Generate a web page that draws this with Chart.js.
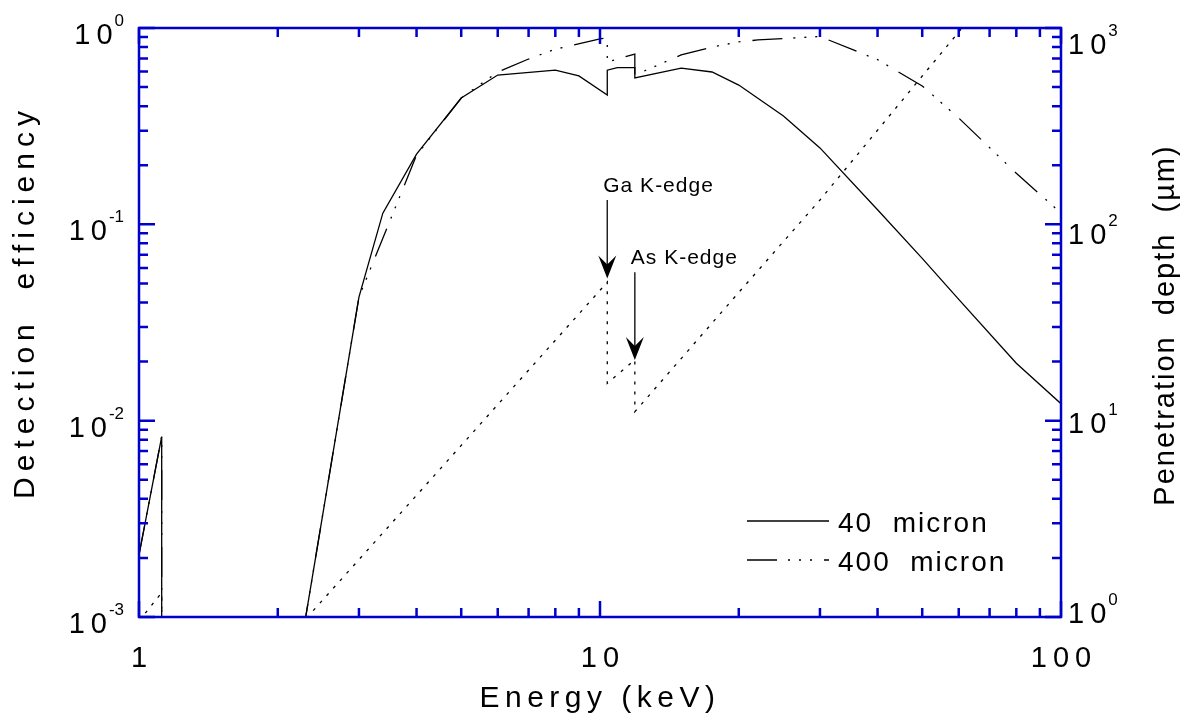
<!DOCTYPE html>
<html>
<head>
<meta charset="utf-8">
<script src="https://cdn.jsdelivr.net/npm/chart.js@4/dist/chart.umd.min.js"></script>
<style>
  html, body { margin: 0; padding: 0; background: #fff; }
  #wrap { width: 1187px; height: 719px; position: relative; }
</style>
</head>
<body>
<div id="wrap"><canvas id="chart"></canvas></div>
<script>
// 40 micron: energia (keV) e eficiencia de deteccao
const energia40 = [1.0, 1.12, 1.12, 2.0, 3.0, 3.38, 4.0, 5.0, 6.0, 8.0, 9.0, 10.37, 10.37, 10.9, 11.9, 11.9, 15.0, 17.5, 20.0, 25.0, 30.0, 40.0, 50.0, 60.0, 80.0, 100.0];
const efic40 = [0.00207, 0.0083, 0.0001, 0.00014, 0.0426, 0.114, 0.228, 0.44, 0.576, 0.61, 0.57, 0.456, 0.61, 0.628, 0.628, 0.557, 0.625, 0.597, 0.512, 0.356, 0.245, 0.1186, 0.0671, 0.0415, 0.0196, 0.0122];

// 400 micron
const energia400 = [1.0, 1.12, 1.12, 2.0, 3.0, 3.38, 4.0, 5.0, 6.0, 7.0, 8.0, 10.0, 10.37, 10.37, 11.9, 11.9, 12.6, 15.0, 17.5, 20.0, 22.0, 30.0, 40.0, 50.0, 60.0, 80.0, 100.0];
const efic400 = [0.00207, 0.0083, 0.0001, 0.00014, 0.0426, 0.085, 0.225, 0.44, 0.597, 0.695, 0.78, 0.88, 0.89, 0.671, 0.737, 0.576, 0.61, 0.729, 0.80, 0.85, 0.869, 0.905, 0.69, 0.507, 0.348, 0.182, 0.114];

// profundidade de penetracao (um), eixo da direita
const energiaProf = [1.0, 1.12, 1.12, 2.32, 3.0, 5.0, 10.0, 10.37, 10.37, 11.9, 11.9, 20.0, 30.0, 48.6, 61.0];
const prof = [0.955, 1.33, 0.1, 1.0, 1.96, 7.48, 46.1, 50.8, 15.5, 20.4, 11.1, 45.0, 133, 525, 1000];

// marcas dos eixos
const xMarcas = [1, 10, 100];
const xRotulos = ["1", "10", "100"];
const yMarcas = [0.001, 0.01, 0.1, 1];
const yExpoentes = ["-3", "-2", "-1", "0"];
const y2Marcas = [1, 10, 100, 1000];
const y2Expoentes = ["0", "1", "2", "3"];

// anotacoes (energia da borda, topo e ponta da seta em um)
const bordas = ["Ga K-edge", "As K-edge"];
const bordaEnergia = [10.37, 11.9];
const setaTopo = [133, 57];
const setaPonta = [53, 20.4];

const legendas = ["40  micron", "400  micron"];

const AZUL = "#0000cc";
const FONTE = "'Liberation Sans', Arial, sans-serif";
const MENORES = [2, 3, 4, 5, 6, 7, 8, 9];

function pares(xs, ys) {
  return xs.map((x, i) => ({ x: x, y: ys[i] }));
}

function listaMarcas(majores) {
  const lista = [];
  majores.forEach((v, i) => {
    lista.push({ v: v, major: true });
    if (i < majores.length - 1) {
      MENORES.forEach((m) => lista.push({ v: v * m, major: false }));
    }
  });
  return lista;
}

function potencia(ctx, exp, x, y, alinhar) {
  ctx.font = "29px " + FONTE;
  ctx.letterSpacing = "6px";
  const wBase = ctx.measureText("10").width;
  ctx.font = "17px " + FONTE;
  ctx.letterSpacing = "0px";
  const wSup = ctx.measureText(exp).width;
  let x0 = x;
  if (alinhar === "right") x0 = x - wBase - wSup;
  ctx.textAlign = "left";
  ctx.textBaseline = "alphabetic";
  ctx.font = "29px " + FONTE;
  ctx.letterSpacing = "6px";
  ctx.fillText("10", x0, y + 13);
  ctx.font = "17px " + FONTE;
  ctx.letterSpacing = "0px";
  ctx.fillText(exp, x0 + wBase - 4, y - 5);
}

const eixosPlugin = {
  id: "eixos",
  afterDatasetsDraw(chart) {
    const ctx = chart.ctx;
    const a = chart.chartArea;
    const sx = chart.scales.x;
    const sy = chart.scales.y;
    const sy2 = chart.scales.y2;
    ctx.save();
    ctx.strokeStyle = AZUL;
    ctx.lineWidth = 2.5;
    ctx.beginPath();
    listaMarcas(xMarcas).forEach((m) => {
      const px = sx.getPixelForValue(m.v);
      const len = m.major ? 16 : 9;
      ctx.moveTo(px, a.bottom); ctx.lineTo(px, a.bottom - len);
      ctx.moveTo(px, a.top); ctx.lineTo(px, a.top + len);
    });
    listaMarcas(yMarcas).forEach((m) => {
      const py = sy.getPixelForValue(m.v);
      const len = m.major ? 16 : 9;
      ctx.moveTo(a.left, py); ctx.lineTo(a.left + len, py);
    });
    listaMarcas(y2Marcas).forEach((m) => {
      const py = sy2.getPixelForValue(m.v);
      const len = m.major ? 16 : 9;
      ctx.moveTo(a.right, py); ctx.lineTo(a.right - len, py);
    });
    ctx.stroke();
    ctx.strokeRect(a.left, a.top, a.right - a.left, a.bottom - a.top);

    // rotulos
    ctx.fillStyle = "#000";
    yMarcas.forEach((v, i) => potencia(ctx, yExpoentes[i], a.left - 11, sy.getPixelForValue(v) + 3, "right"));
    y2Marcas.forEach((v, i) => {
      const py = sy2.getPixelForValue(v);
      const frac = (py - a.top) / (a.bottom - a.top);
      potencia(ctx, y2Expoentes[i], a.right + 7, py + 13 - 20 * frac, "left");
    });
    ctx.font = "29px " + FONTE;
    ctx.letterSpacing = "6px";
    ctx.textAlign = "left";
    xMarcas.forEach((v, i) => {
      const w = ctx.measureText(xRotulos[i]).width - 6;
      ctx.fillText(xRotulos[i], sx.getPixelForValue(v) - w / 2, a.bottom + 50);
    });

    // titulos
    ctx.font = "30px " + FONTE;
    ctx.letterSpacing = "5.5px";
    ctx.textAlign = "center";
    ctx.fillText("Energy (keV)", (a.left + a.right) / 2, 707);
    ctx.save();
    ctx.translate(34, 302);
    ctx.rotate(-Math.PI / 2);
    ctx.letterSpacing = "6px";
    ctx.fillText("Detection  efficiency", 0, 0);
    ctx.restore();
    ctx.save();
    ctx.translate(1174, 325);
    ctx.rotate(-Math.PI / 2);
    ctx.font = "29px " + FONTE;
    ctx.letterSpacing = "2px";
    ctx.fillText("Penetration  depth  (\u00b5m)", 0, 0);
    ctx.restore();

    // legenda
    const dsets = chart.data.datasets;
    ctx.textAlign = "left";
    legendas.forEach((txt, i) => {
      const ly = 521 + i * 39;
      ctx.save();
      ctx.strokeStyle = "#000";
      ctx.lineWidth = 1.3;
      ctx.setLineDash(dsets[i].borderDash || []);
      ctx.beginPath();
      ctx.moveTo(747, ly); ctx.lineTo(829, ly);
      ctx.stroke();
      ctx.restore();
      ctx.font = "28px " + FONTE;
      ctx.letterSpacing = "2px";
      ctx.fillText(txt, 838, ly + 11);
    });

    // setas das bordas K
    ctx.fillStyle = "#000";
    ctx.strokeStyle = "#222";
    ctx.lineWidth = 1.5;
    bordas.forEach((txt, i) => {
      const px = sx.getPixelForValue(bordaEnergia[i]);
      const yt = sy2.getPixelForValue(setaTopo[i]);
      const yp = sy2.getPixelForValue(setaPonta[i]);
      ctx.beginPath();
      ctx.moveTo(px, yt); ctx.lineTo(px, yp - 10);
      ctx.stroke();
      ctx.beginPath();
      ctx.moveTo(px, yp);
      ctx.lineTo(px - 9, yp - 23);
      ctx.lineTo(px, yp - 14);
      ctx.lineTo(px + 9, yp - 23);
      ctx.closePath();
      ctx.fill();
      ctx.font = "21px " + FONTE;
      ctx.letterSpacing = "1px";
      ctx.fillText(txt, px - 4, yt - 8);
    });
    ctx.restore();
  }
};

new Chart(document.getElementById("chart"), {
  type: "line",
  data: {
    datasets: [
      { label: "40 micron", data: pares(energia40, efic40), yAxisID: "y",
        borderColor: "#000", borderWidth: 1.3, pointRadius: 0, tension: 0 },
      { label: "400 micron", data: pares(energia400, efic400), yAxisID: "y",
        borderColor: "#000", borderWidth: 1.3, pointRadius: 0, tension: 0,
        borderDash: [30, 11, 2, 9, 2, 9, 2, 12] },
      { label: "depth", data: pares(energiaProf, prof), yAxisID: "y2",
        borderColor: "#000", borderWidth: 1.3, pointRadius: 0, tension: 0,
        borderDash: [3, 7] },
    ],
  },
  options: {
    responsive: true,
    maintainAspectRatio: false,
    animation: false,
    layout: { padding: { left: 139, top: 28, right: 126, bottom: 102 } },
    plugins: { legend: { display: false }, tooltip: { enabled: false } },
    scales: {
      x: { type: "logarithmic", min: 1, max: 100, display: false },
      y: { type: "logarithmic", min: 0.001, max: 1, display: false },
      y2: { type: "logarithmic", min: 1, max: 1000, display: false, position: "right" },
    },
  },
  plugins: [eixosPlugin],
});
</script>
</body>
</html>
